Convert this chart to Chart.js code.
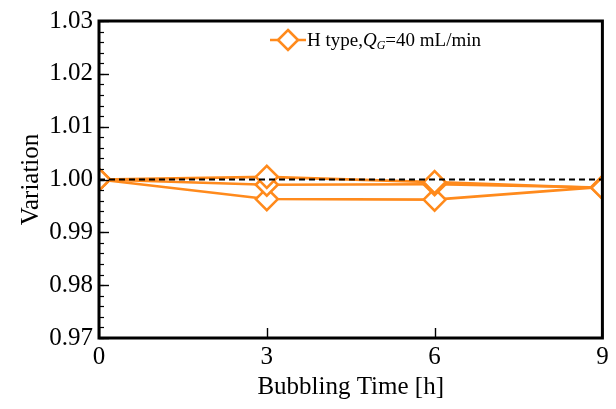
<!DOCTYPE html>
<html>
<head>
<meta charset="utf-8">
<script src="https://cdn.jsdelivr.net/npm/chart.js@4.4.1/dist/chart.umd.min.js"></script>
<style>
  html, body { margin: 0; padding: 0; background: #fff; }
  #wrap { width: 616px; height: 409px; }
</style>
</head>
<body>
<div id="wrap"><canvas id="c" width="616" height="409"></canvas></div>
<script>
// Bubbling time [h]
const times = [0, 3, 6, 9];
// Variation for three repeated runs (H type, QG = 40 mL/min)
const run1 = [1.0000, 1.0005, 0.9995, 0.9984];
const run2 = [1.0000, 0.9990, 0.9991, 0.9985];
const run3 = [1.0000, 0.9963, 0.9962, 0.9986];
// Reference level
const refLevel = [1.0, 1.0];
const refTimes = [0, 9];
// Axis ticks
const yMajorTicks = [0.97, 0.98, 0.99, 1.00, 1.01, 1.02, 1.03];
const xMajorTicks = [0, 3, 6, 9];

const ORANGE = '#FF8A1C';
const SERIF = '"Liberation Serif", "Times New Roman", serif';

function pts(xs, ys) { return xs.map((x, i) => ({ x: x, y: ys[i] })); }

function runDataset(values) {
  return {
    data: pts(times, values),
    borderColor: ORANGE,
    borderWidth: 2.6,
    backgroundColor: '#ffffff',
    pointStyle: 'rectRot',
    pointRadius: 11,
    pointHoverRadius: 11,
    pointBorderWidth: 2.6,
    pointBackgroundColor: '#ffffff',
    pointBorderColor: ORANGE,
    tension: 0,
    fill: false,
    order: 2
  };
}

// Frame, inward ticks and the mixed-style legend
const decorations = {
  id: 'decorations',
  afterDatasetsDraw(chart) {
    const { ctx, chartArea: a, scales } = chart;
    const xs = scales.x, ys = scales.y;
    ctx.save();
    ctx.strokeStyle = '#000';
    // minor y ticks
    ctx.lineWidth = 1.2;
    for (let k = 0; k <= 30; k++) {
      const v = 0.97 + k * 0.002;
      const y = Math.round(ys.getPixelForValue(v)) + 0.5;
      ctx.beginPath(); ctx.moveTo(a.left, y); ctx.lineTo(a.left + 5, y); ctx.stroke();
    }
    // major y ticks
    ctx.lineWidth = 1.4;
    yMajorTicks.forEach(v => {
      const y = Math.round(ys.getPixelForValue(v)) + 0.5;
      ctx.beginPath(); ctx.moveTo(a.left, y); ctx.lineTo(a.left + 10, y); ctx.stroke();
    });
    // x ticks
    xMajorTicks.forEach(v => {
      const x = Math.round(xs.getPixelForValue(v)) + 0.5;
      ctx.beginPath(); ctx.moveTo(x, a.bottom); ctx.lineTo(x, a.bottom - 10); ctx.stroke();
    });
    // frame
    ctx.lineWidth = 3;
    ctx.strokeRect(a.left, a.top, a.right - a.left, a.bottom - a.top);

    // legend
    const ly = 40;
    ctx.strokeStyle = ORANGE;
    ctx.lineWidth = 2.6;
    ctx.beginPath(); ctx.moveTo(270, ly); ctx.lineTo(306, ly); ctx.stroke();
    ctx.fillStyle = '#fff';
    ctx.lineWidth = 2.6;
    ctx.beginPath();
    ctx.moveTo(288, ly - 10); ctx.lineTo(298, ly); ctx.lineTo(288, ly + 10); ctx.lineTo(278, ly);
    ctx.closePath(); ctx.fill(); ctx.stroke();

    ctx.fillStyle = '#000';
    ctx.textBaseline = 'alphabetic';
    ctx.textAlign = 'left';
    let tx = 307;
    const base = ly + 6;
    ctx.font = '19px ' + SERIF;
    ctx.fillText('H type,', tx, base); tx += ctx.measureText('H type,').width;
    ctx.font = 'italic 19px ' + SERIF;
    ctx.fillText('Q', tx, base); tx += ctx.measureText('Q').width;
    ctx.font = 'italic 12px ' + SERIF;
    ctx.fillText('G', tx, base + 3); tx += ctx.measureText('G').width;
    ctx.font = '19px ' + SERIF;
    ctx.fillText('=40 mL/min', tx, base);
    ctx.restore();
  }
};

new Chart(document.getElementById('c'), {
  type: 'line',
  data: {
    datasets: [
      runDataset(run1),
      runDataset(run2),
      runDataset(run3),
      {
        data: pts(refTimes, refLevel),
        borderColor: '#000',
        borderWidth: 2,
        borderDash: [6, 4],
        pointRadius: 0,
        fill: false,
        order: 1
      }
    ]
  },
  options: {
    responsive: false,
    animation: false,
    devicePixelRatio: 1,
    layout: { padding: { left: 0, top: 17, right: 9, bottom: 0 } },
    plugins: { legend: { display: false }, tooltip: { enabled: false } },
    scales: {
      x: {
        type: 'linear', min: 0, max: 9,
        afterBuildTicks(s) { s.ticks = xMajorTicks.map(v => ({ value: v })); },
        afterFit(s) { s.height = 71; },
        grid: { display: false, drawTicks: false, tickLength: 0 }, border: { display: false },
        ticks: { color: '#000', font: { family: SERIF, size: 25 }, padding: 4, maxRotation: 0 },
        title: { display: true, text: 'Bubbling Time [h]', color: '#000',
                 font: { family: SERIF, size: 25 }, padding: { top: 0, bottom: 7 } }
      },
      y: {
        min: 0.97, max: 1.03,
        afterBuildTicks(s) { s.ticks = yMajorTicks.map(v => ({ value: v })); },
        afterFit(s) { s.width = 99; },
        grid: { display: false, drawTicks: false, tickLength: 0 }, border: { display: false },
        ticks: { color: '#000', font: { family: SERIF, size: 25 }, padding: 6,
                 callback: v => v.toFixed(2) },
        title: { display: true, text: 'Variation', color: '#000',
                 font: { family: SERIF, size: 25 }, padding: { top: 16, bottom: 0 } }
      }
    }
  },
  plugins: [decorations]
});
</script>
</body>
</html>
